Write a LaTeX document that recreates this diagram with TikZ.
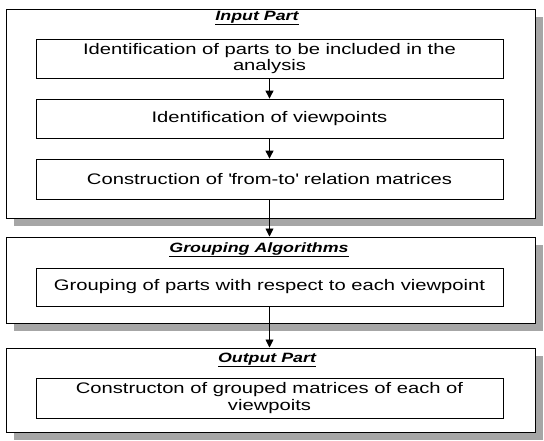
\documentclass[tikz,border=0pt]{standalone}
\usepackage{fontspec}
\setmainfont{Liberation Sans}[FakeStretch=1.32]
\usetikzlibrary{arrows.meta,shadows}
\begin{document}
\begin{tikzpicture}[x=1pt,y=-1pt,
  outerbox/.style={draw=black, line width=1pt, fill=white, minimum width=529pt, inner sep=0pt,
    drop shadow={shadow xshift=8pt, shadow yshift=-8pt, fill=black!35, opacity=1}},
  innerbox/.style={draw=black, line width=0.8pt, fill=white, minimum width=467pt, inner sep=0pt,
    align=center, font=\fontsize{15.3}{16.5}\selectfont},
  titletext/.style={inner sep=0pt, font=\fontsize{13.5}{15}\selectfont\bfseries\itshape},
  flow/.style={draw=black, line width=0.9pt, -{Triangle[width=8pt,length=8pt]}}
]
\useasboundingbox (0,0) rectangle (544,440);
% outer boxes
\node[outerbox, minimum height=209pt] (o1) at (270.5,113.5) {};
\node[outerbox, minimum height=86pt] (o2) at (270.5,280) {};
\node[outerbox, minimum height=84pt] (o3) at (270.5,390) {};
% titles
\node[titletext] (t1) at (257,18) {\underline{Input Part}};
\node[titletext] (t2) at (259,250) {\underline{Grouping Algorithms}};
\node[titletext] (t3) at (267,360) {\underline{Output Part}};
% inner boxes
\node[innerbox, minimum height=39pt] (a) at (269.5,58.5) {Identification of parts to be included in the\\analysis};
\node[innerbox, minimum height=39pt] (b) at (269.5,118.5) {Identification of viewpoints};
\node[innerbox, minimum height=40pt] (c) at (269.5,179) {Construction of \textquotesingle from-to\textquotesingle\ relation matrices};
\node[innerbox, minimum height=38pt] (g) at (269.5,287) {Grouping of parts with respect to each viewpoint};
\node[innerbox, minimum height=40pt] (h) at (269.5,398) {Constructon of grouped matrices of each of\\viewpoits};
% arrows
\draw[flow] (a.south) -- (b.north);
\draw[flow] (b.south) -- (c.north);
\draw[flow] (c.south) -- (c.south |- o2.north);
\draw[flow] (g.south) -- (g.south |- o3.north);
\end{tikzpicture}
\end{document}
